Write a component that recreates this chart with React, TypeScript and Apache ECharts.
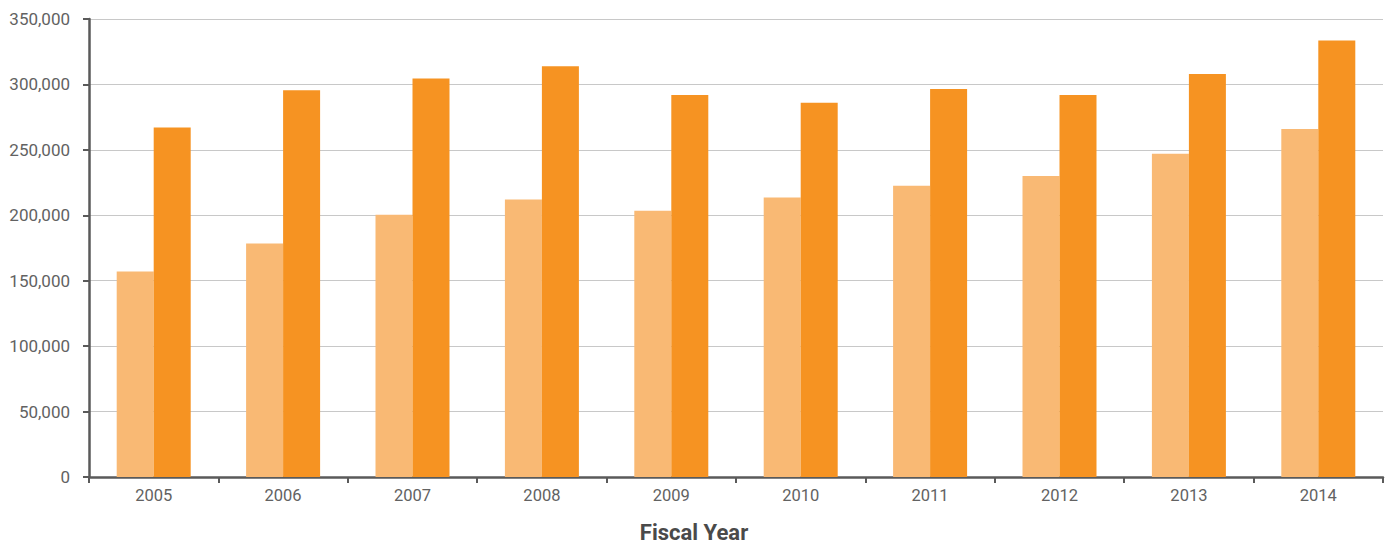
import React, { useEffect, useRef } from "react";
import * as echarts from "echarts";

const years = ["2005", "2006", "2007", "2008", "2009", "2010", "2011", "2012", "2013", "2014"];
const lightValues = [157000, 178500, 200500, 212000, 203500, 213500, 222500, 230000, 247000, 266000];
const darkValues = [267000, 295500, 304500, 313800, 292000, 286000, 296500, 292000, 308000, 333500];
const yMax = 350000;
const yInterval = 50000;
const xTitle = "Fiscal Year";

export default function App() {
  const ref = useRef<HTMLDivElement>(null);
  useEffect(() => {
    document.body.style.margin = "0";
    if (!ref.current) return;
    const chart = echarts.init(ref.current, null, { renderer: "svg" });
    chart.setOption({
      animation: false,
      backgroundColor: "#ffffff",
      graphic: [
        {
          type: "text",
          x: 694,
          y: 532,
          style: {
            text: xTitle,
            align: "center",
            verticalAlign: "middle",
            lineHeight: 22,
            fontFamily: "Roboto",
            fontWeight: "bold",
            fontSize: 22,
            fill: "#4a4a4a",
          },
        },
      ],
      grid: { left: 89, right: 5, top: 19, bottom: 67 },
      xAxis: {
        type: "category",
        data: years,
        axisLine: { lineStyle: { color: "#5a5a5a", width: 2.5 } },
        axisTick: { show: true, length: 6, lineStyle: { color: "#5a5a5a", width: 2 } },
        axisLabel: { color: "#626262", fontFamily: "Roboto", fontSize: 16.5, margin: 10 },
      },
      yAxis: {
        type: "value",
        min: 0,
        max: yMax,
        interval: yInterval,
        axisLine: { show: true, lineStyle: { color: "#5a5a5a", width: 2.5 } },
        axisTick: { show: true, length: 6, lineStyle: { color: "#5a5a5a", width: 2 } },
        splitLine: { lineStyle: { color: "#c8c8c8", width: 1.2 } },
        axisLabel: {
          color: "#626262",
          fontFamily: "Roboto",
          fontSize: 17,
          margin: 19,
          formatter: (v: number) => v.toLocaleString("en-US"),
        },
      },
      series: [
        {
          type: "bar",
          data: lightValues,
          itemStyle: { color: "#f9b974" },
          barWidth: 37,
          barGap: "0%",
        },
        {
          type: "bar",
          data: darkValues,
          itemStyle: { color: "#f69322" },
          barWidth: 37,
          barGap: "0%",
        },
      ],
    });
    return () => chart.dispose();
  }, []);
  return <div ref={ref} style={{ width: 1388, height: 544 }} />;
}
